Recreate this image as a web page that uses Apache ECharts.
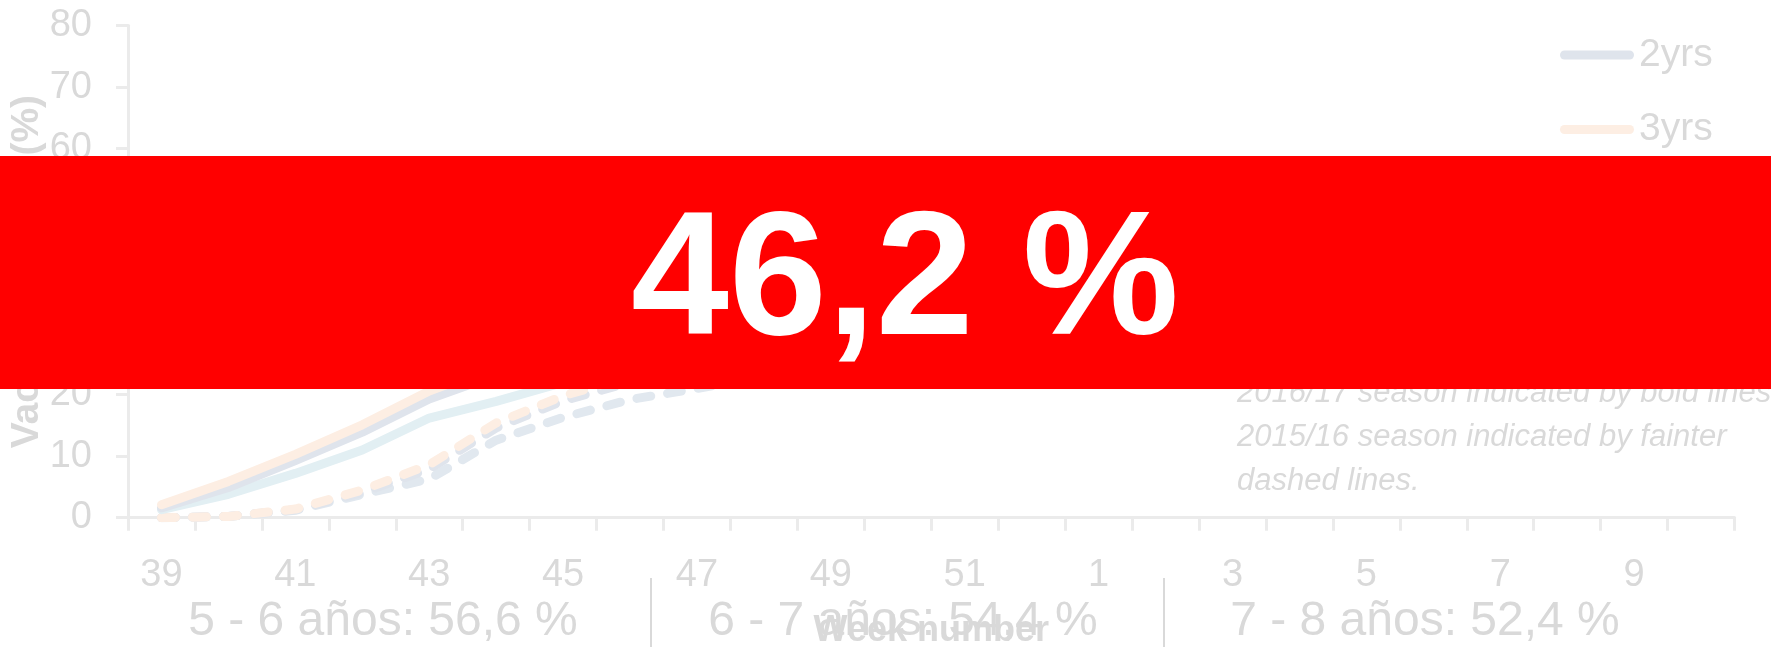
<!DOCTYPE html>
<html>
<head>
<meta charset="utf-8">
<script src="https://cdn.jsdelivr.net/npm/echarts@6/dist/echarts.min.js"></script>
<style>
  html, body { margin: 0; padding: 0; background: #ffffff; }
  #chart { width: 1771px; height: 647px; }
</style>
</head>
<body>
<div id="chart"></div>
<script>
// Week numbers of the flu season (autumn to early spring)
const weeks = ['39','40','41','42','43','44','45','46','47','48','49','50','51','52',
               '1','2','3','4','5','6','7','8','9','10'];

// 2016/17 season, cumulative uptake (%)
const uptake2yrs_1617 = [1.6, 4.9, 9.3, 13.9, 19.3, 23.2, 26.8, 29.6, 31.8, 33.5, 34.9, 35.9, 36.7, 37.3, 37.8, 38.2, 38.5, 38.8, 39.0];
const uptake3yrs_1617 = [2.1, 5.9, 10.3, 15.1, 20.6, 24.6, 28.2, 31.0, 33.2, 35.0, 36.4, 37.5, 38.3, 38.9, 39.4, 39.8, 40.2, 40.5, 40.7];
const uptake4yrs_1617 = [1.3, 3.8, 7.2, 11.0, 16.2, 18.9, 22.0, 24.2, 26.0, 27.6, 28.9, 29.9, 30.6, 31.2, 31.7, 32.1, 32.4, 32.7, 32.9];

// 2015/16 season, cumulative uptake (%)
const uptake2yrs_1516 = [0.0, 0.2, 1.3, 4.1, 7.9, 14.6, 19.0, 22.0, 24.7, 27.0, 29.1, 30.9, 32.4, 33.5, 34.3, 34.9, 35.3, 35.6, 35.8];
const uptake3yrs_1516 = [0.0, 0.2, 1.4, 4.5, 8.6, 15.4, 19.8, 23.0, 25.6, 28.0, 30.2, 32.0, 33.6, 34.8, 35.7, 36.4, 36.9, 37.3, 37.6];
const uptake4yrs_1516 = [0.0, 0.2, 1.2, 3.8, 6.3, 12.6, 16.3, 19.2, 21.0, 23.0, 25.0, 26.6, 27.9, 28.8, 29.5, 30.0, 30.3, 30.6, 30.8];

const yTicks = { min: 0, max: 80, interval: 10 };

const headline = '46,2 %';
const ageGroupLabels = ['5 - 6 años: 56,6 %', '6 - 7 años: 54,4 %', '7 - 8 años: 52,4 %'];
const noteLines = [
  '2016/17 season indicated by bold lines,',
  '2015/16 season indicated by fainter',
  'dashed lines.'
];

const FONT = "'Liberation Sans', Arial, sans-serif";
const GREY_TEXT = '#d9d9d9';
const AXIS_GREY = '#ebebeb';
const COL_2 = '#dfe4ec';
const COL_3 = '#fdeee3';
const COL_4 = '#e2eff3';
const COL_4_FAINT = '#e1e8ef';

// capsule-shaped legend key (rounded line ends)
const LEGEND_KEY = 'path://M4.5,0 H69.5 A4.5,4.5 0 0 1 69.5,9 H4.5 A4.5,4.5 0 0 1 4.5,0 Z';

function solid(name, data, color, z) {
  return {
    name, type: 'line', data, symbol: 'none', silent: true, z,
    lineStyle: { color, width: 9, cap: 'round', join: 'round' },
    itemStyle: { color }
  };
}
function dashed(name, data, color, z) {
  return {
    name, type: 'line', data, symbol: 'none', silent: true, z,
    lineStyle: { color, width: 9, type: [14, 17], cap: 'round', join: 'round' },
    itemStyle: { color }
  };
}

const chart = echarts.init(document.getElementById('chart'), null, { renderer: 'canvas' });

const option = {
  animation: false,
  backgroundColor: '#ffffff',
  textStyle: { fontFamily: FONT },
  grid: { left: 128, right: 36.5, top: 25.5, bottom: 129.3, containLabel: false, outerBoundsMode: 'none' },
  legend: {
    data: ['2yrs', '3yrs', '4yrs'],
    orient: 'vertical',
    left: 1555,
    top: 30,
    icon: LEGEND_KEY,
    itemWidth: 74,
    itemHeight: 9,
    itemGap: 34.5,
    itemTextGap: 3,
    itemStyle: { borderWidth: 0 },
    textStyle: { fontFamily: FONT, fontSize: 39, color: GREY_TEXT, lineHeight: 40 },
    selectedMode: false
  },
  xAxis: {
    type: 'category',
    data: weeks,
    boundaryGap: true,
    name: 'Week number',
    nameLocation: 'middle',
    nameGap: 95,
    nameMoveOverlap: false,
    nameTextStyle: { fontFamily: FONT, fontSize: 36, fontWeight: 'bold', color: GREY_TEXT },
    axisLine: { show: true, lineStyle: { color: AXIS_GREY, width: 3 } },
    axisTick: { show: true, interval: 0, length: 13, lineStyle: { color: AXIS_GREY, width: 3 } },
    axisLabel: { interval: 1, margin: 39, fontFamily: FONT, fontSize: 38, color: GREY_TEXT },
    splitLine: { show: false }
  },
  yAxis: {
    type: 'value',
    min: yTicks.min, max: yTicks.max, interval: yTicks.interval,
    name: 'Vaccine uptake (%)',
    nameLocation: 'middle',
    nameGap: 81,
    nameMoveOverlap: false,
    nameTextStyle: { fontFamily: FONT, fontSize: 39, fontWeight: 'bold', color: GREY_TEXT },
    axisLine: { show: true, lineStyle: { color: AXIS_GREY, width: 3 } },
    axisTick: { show: true, length: 12, lineStyle: { color: AXIS_GREY, width: 3 } },
    axisLabel: { margin: 36, fontFamily: FONT, fontSize: 38, color: GREY_TEXT },
    splitLine: { show: false }
  },
  series: [
    dashed('4yrs 2015/16', uptake4yrs_1516, COL_4_FAINT, 2),
    dashed('2yrs 2015/16', uptake2yrs_1516, COL_2, 2),
    dashed('3yrs 2015/16', uptake3yrs_1516, COL_3, 2),
    solid('4yrs', uptake4yrs_1617, COL_4, 3),
    solid('2yrs', uptake2yrs_1617, COL_2, 3),
    solid('3yrs', uptake3yrs_1617, COL_3, 3)
  ],
  graphic: [
    // explanatory note beside the plot
    ...noteLines.map((t, i) => ({
      type: 'text', z: 90, silent: true,
      x: 1237, y: 393 + i * 44,
      style: { text: t, fill: GREY_TEXT, font: `italic 31px ${FONT}`, align: 'left', verticalAlign: 'middle' }
    })),
    // headline banner
    {
      type: 'rect', z: 100, silent: true,
      shape: { x: 0, y: 156, width: 1771, height: 233 },
      style: { fill: '#ff0000' }
    },
    {
      type: 'text', z: 101, silent: true,
      x: 905, y: 285,
      style: { text: headline, fill: '#ffffff', font: `bold 176px ${FONT}`, align: 'center', verticalAlign: 'middle' }
    },
    // age-group figures along the bottom
    ...ageGroupLabels.map((t, i) => ({
      type: 'text', z: 95, silent: true,
      x: [383, 903, 1425][i], y: 622,
      style: { text: t, fill: GREY_TEXT, font: `48px ${FONT}`, align: 'center', verticalAlign: 'middle' }
    })),
    ...[651, 1164].map(x => ({
      type: 'line', z: 95, silent: true,
      shape: { x1: x, y1: 578, x2: x, y2: 647 },
      style: { stroke: GREY_TEXT, lineWidth: 2 }
    }))
  ]
};

chart.setOption(option);
</script>
</body>
</html>
